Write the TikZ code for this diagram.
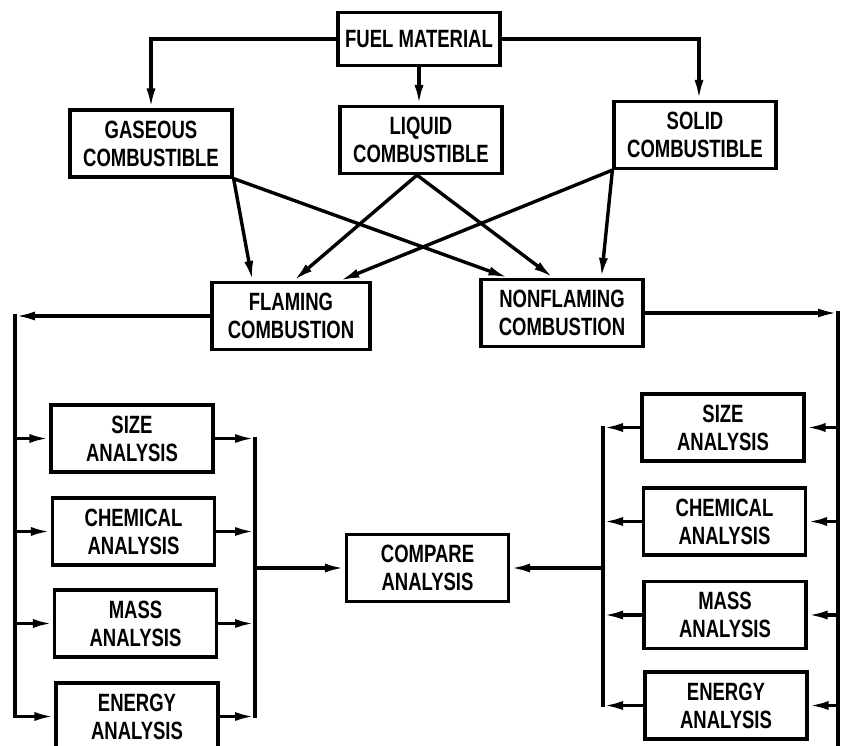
\documentclass[tikz,border=0pt]{standalone}
\usepackage{fontspec}
\setmainfont[FakeStretch=0.74]{Liberation Sans}
\usetikzlibrary{arrows.meta,positioning}

\begin{document}
\begin{tikzpicture}[x=1pt,y=-1pt,
    box/.style={draw, line width=3.2pt, minimum width=162pt, minimum height=67pt,
      inner sep=0pt, align=center, font=\fontsize{25pt}{28pt}\selectfont\bfseries},
    link/.style={line width=3.4pt, line cap=rect},
    flow/.style={line width=3.4pt, -{Latex[length=20pt,width=9pt]}}]
    \useasboundingbox (0,0) rectangle (841,746);

    \node[box, minimum height=53pt] (fuel) at (419,39) {FUEL MATERIAL};
    \node[box] (gas) at (151,143.5) {GASEOUS\\COMBUSTIBLE};
    \node[box] (liq) at (421,140) {LIQUID\\COMBUSTIBLE};
    \node[box] (sol) at (695,135) {SOLID\\COMBUSTIBLE};
    \node[box, minimum width=158pt] (flam) at (291,316) {FLAMING\\COMBUSTION};
    \node[box] (nonfl) at (562,313) {NONFLAMING\\COMBUSTION};

    \node[box] (lsize) at (132,438.5) {SIZE\\ANALYSIS};
    \node[box] (lchem) at (133.5,531.5) {CHEMICAL\\ANALYSIS};
    \node[box] (lmass) at (135.5,623.5) {MASS\\ANALYSIS};
    \node[box] (lenergy) at (137,716.5) {ENERGY\\ANALYSIS};
    \node[box] (compare) at (427.5,568) {COMPARE\\ANALYSIS};
    \node[box] (rsize) at (723,427.5) {SIZE\\ANALYSIS};
    \node[box] (rchem) at (724.5,521.5) {CHEMICAL\\ANALYSIS};
    \node[box] (rmass) at (725,615) {MASS\\ANALYSIS};
    \node[box] (renergy) at (726,705.5) {ENERGY\\ANALYSIS};

    \coordinate (lb) at (15,0);
    \coordinate (lj) at (255,0);
    \coordinate (rj) at (603,0);
    \coordinate (rb) at (838,0);
    \coordinate (rbend) at (838,760);

    \draw[flow] (fuel.west) -| (gas.north);
    \draw[flow] (fuel.south) -- (fuel.south |- liq.north);
    \draw[flow] (fuel.east) -| ([xshift=4pt]sol.north);

    \draw[flow] (gas.south east) -- ([xshift=42pt]flam.north west);
    \draw[flow] (gas.south east) -- ([xshift=29pt]nonfl.north west);
    \draw[flow] ([xshift=-4pt]liq.south) -- ([xshift=83pt]flam.north west);
    \draw[flow] ([xshift=-4pt]liq.south) -- ([xshift=74pt]nonfl.north west);
    \draw[flow] (sol.south west) -- ([xshift=129pt]flam.north west);
    \draw[flow] (sol.south west) -- ([xshift=122pt]nonfl.north west);

    \draw[flow] (flam.west) -- (flam.west -| lb);
    \draw[link] (flam.west -| lb) -- (lenergy.west -| lb);
    \foreach \b in {lsize,lchem,lmass,lenergy}
        \draw[flow] (\b.west -| lb) -- (\b.west);
    \foreach \b in {lsize,lchem,lmass,lenergy}
        \draw[flow] (\b.east) -- (\b.east -| lj);
    \draw[link] (lsize.east -| lj) -- (lenergy.east -| lj);
    \draw[flow] (compare.west -| lj) -- (compare.west);

    \draw[flow] (nonfl.east) -- (nonfl.east -| rb);
    \draw[link] (nonfl.east -| rb) -- (rbend);
    \foreach \b in {rsize,rchem,rmass,renergy}
        \draw[flow] (\b.east -| rb) -- (\b.east);
    \foreach \b in {rsize,rchem,rmass,renergy}
        \draw[flow] (\b.west) -- (\b.west -| rj);
    \draw[link] (rsize.west -| rj) -- (renergy.west -| rj);
    \draw[flow] (compare.east -| rj) -- (compare.east);
\end{tikzpicture}
\end{document}
